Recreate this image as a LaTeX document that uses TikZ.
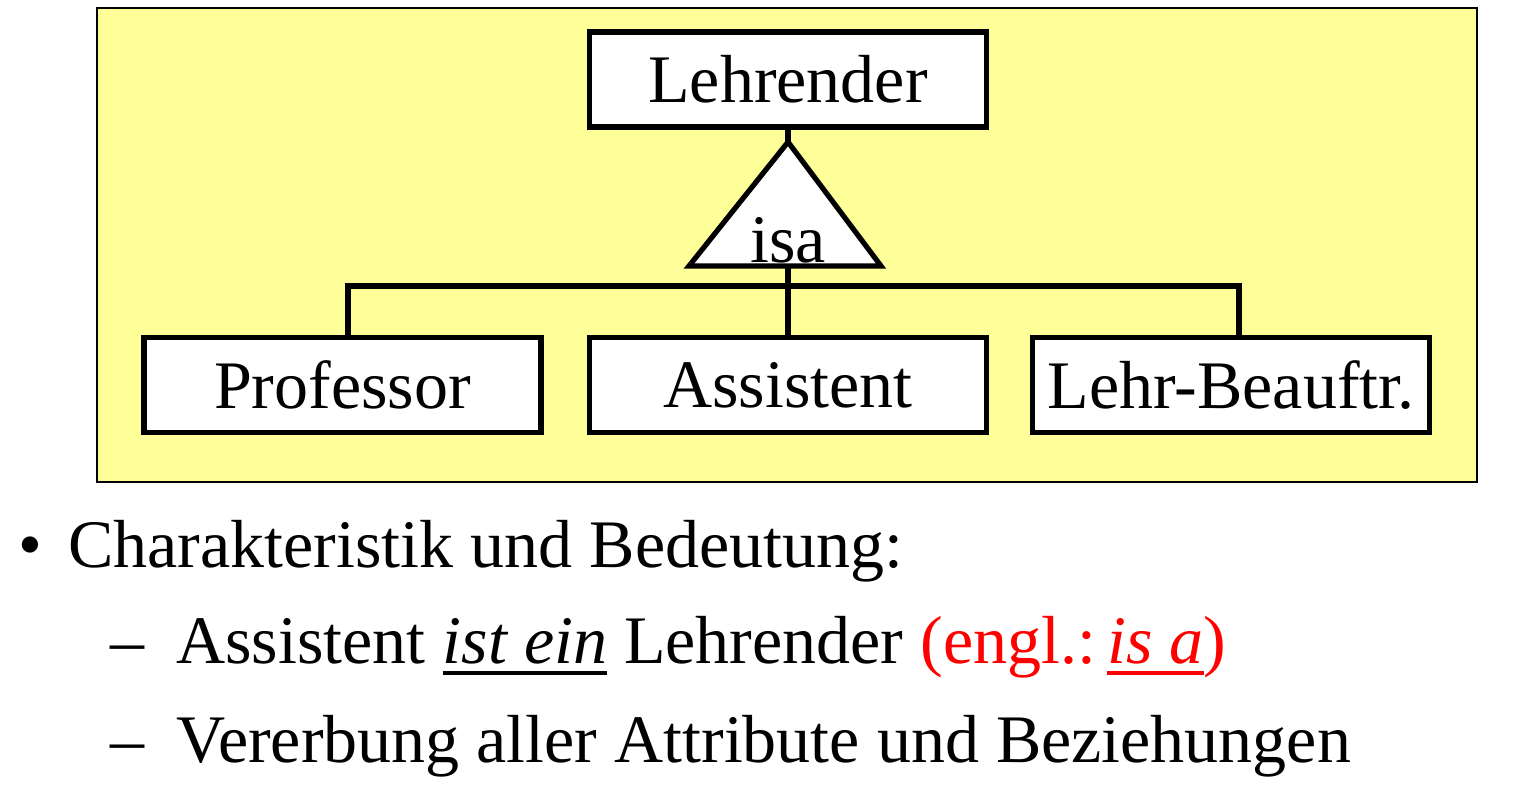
\documentclass[tikz,border=0pt]{standalone}
\usepackage{fontspec}
\setmainfont{Liberation Serif}
\usetikzlibrary{positioning}
\definecolor{isayellow}{RGB}{255,255,153}
\newsavebox\ubox
\newcommand\thickul[1]{\sbox\ubox{#1}\rlap{\usebox\ubox}\rule[-6pt]{\wd\ubox}{1.8pt}}
\begin{document}
\begin{tikzpicture}[x=0.5pt,y=-0.5pt,inner sep=0pt]
  \useasboundingbox(0,0)rectangle(1513,786);
  \tikzstyle{ent}=[rectangle,draw,line width=2.6pt,fill=white,minimum width=198.5pt,minimum height=47.5pt,font=\fontsize{34}{40}\selectfont]
  \tikzstyle{l}=[line width=2.6pt]
  \tikzstyle{txt}=[anchor=base west,font=\fontsize{34}{40}\selectfont]
  \draw[fill=isayellow,line width=1pt](97,8)rectangle(1477,482);
  \node[ent](lehr)at(788,79.5){Lehrender};
  \foreach\n/\x/\t in{prof/342.5/Professor,assi/788/Assistent,lb/1231/Lehr-Beauftr.}{\node[ent](\n)at(\x,385){\t};}
  \coordinate(top)at(788,142);\coordinate(tl)at(689,266);\coordinate(tr)at(881,266);\coordinate(base)at(788,266);
  \draw[l,fill=white](top)--(tr)--(tl)--cycle;
  \draw[l](lehr.south)--(top);
  \node[anchor=base,font=\fontsize{34}{40}\selectfont](isa)at(788,262){isa};
  \coordinate(bar)at(788,286);
  \draw[l](base)--(assi.north);
  \draw[l]([xshift=2.75pt]prof.north)|-(bar)-|([xshift=4pt]lb.north);
  \node[txt](bul)at(18,567){\textbullet};
  \node[txt](l1)at(68,567){Charakteristik und Bedeutung:};
  \foreach\y in{663,762}{\node[txt](d\y)at(110,\y){–};}
  \node[txt](l2)at(176,663){Assistent \thickul{\textit{ist ein}} Lehrender \textcolor{red}{(engl.:\,\thickul{\textit{is a}})}};
  \node[txt](l3)at(176,762){Vererbung aller Attribute und Beziehungen};
\end{tikzpicture}
\end{document}
